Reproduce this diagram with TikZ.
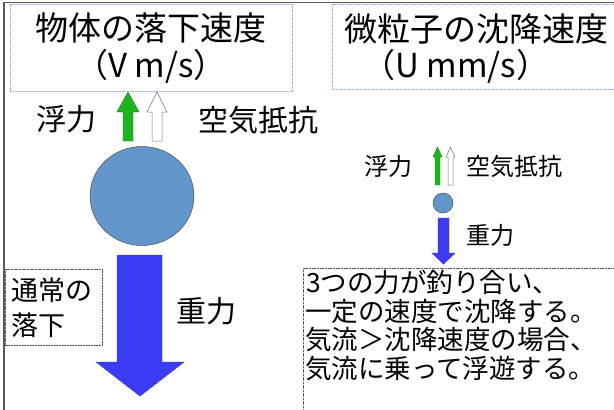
\documentclass[tikz,border=0pt]{standalone}
\usepackage{fontspec}
\setmainfont{Noto Sans CJK JP}
\usetikzlibrary{shapes.geometric}
\definecolor{upgreen}{RGB}{30,180,30}
\definecolor{downblue}{RGB}{60,60,245}
\definecolor{ballblue}{RGB}{98,150,202}
\definecolor{titleedge}{RGB}{150,185,225}
\definecolor{frameedge}{RGB}{90,90,90}
\tikzset{
  titlebox/.style={draw=titleedge, line width=0.9pt, dash pattern=on 1.2pt off 0.4pt},
  notebox/.style={draw=black!65, line width=0.7pt, dash pattern=on 1.2pt off 0.4pt},
  ttl/.style={inner sep=0pt, font=\fontsize{33}{36}\selectfont},
  big/.style={inner sep=0pt, font=\fontsize{30}{34}\selectfont},
  small/.style={inner sep=0pt, font=\fontsize{24}{28}\selectfont},
  note/.style={inner sep=0pt, anchor=west, font=\fontsize{26.5}{29}\selectfont},
  upfill/.style={fill=upgreen, draw=upgreen!70!black, line width=0.4pt},
  upwhite/.style={fill=white, draw=black!55, line width=0.5pt},
  downfill/.style={fill=downblue, draw=downblue!80!black, line width=0.4pt},
}
\begin{document}
\begin{tikzpicture}[x=1pt,y=-1pt]
\useasboundingbox (0,0) rectangle (614,410);
\clip (0,0) rectangle (614,410);
% frame
\draw[frameedge, line width=1.5pt] (4,412) -- (4,2.5) -- (616,2.5);
% title boxes
\draw[titlebox] (10,4.5) rectangle (292,91);
\draw[titlebox] (332,4.5) rectangle (620,89);
\node[ttl] (t1a) at (151,28) {物体の落下速度};
\node[ttl] (t1b) at (151,66) {（V m/s）};
\node[ttl] (t2a) at (476,29) {微粒子の沈降速度};
\node[ttl] (t2b) at (456,66) {（U mm/s）};
% left: large body
\path[upfill] (123,141) -- (123,112) -- (117,112) -- (128,92) -- (139,112) -- (133,112) -- (133,141) -- cycle;
\path[upwhite] (152,141) -- (152,112) -- (147,112) -- (157,92) -- (167,112) -- (162,112) -- (162,141) -- cycle;
\node[big] (fl) at (66,119) {浮力};
\node[big] (ar) at (258,120) {空気抵抗};
\node[ellipse, fill=ballblue, draw=black!70, line width=0.5pt, minimum width=104pt, minimum height=99pt, inner sep=0pt] (ball) at (142,196) {};
\path[downfill] (117,255) -- (162,255) -- (162,362) -- (184,362) -- (140,396) -- (96,362) -- (117,362) -- cycle;
\node[big] (gr) at (206,311) {重力};
\draw[notebox] (5,269) rectangle (102,345);
\node[inner sep=0pt, anchor=west, font=\fontsize{27}{30}\selectfont] (n1) at (11,290) {通常の};
\node[inner sep=0pt, anchor=west, font=\fontsize{27}{30}\selectfont] (n2) at (11,325) {落下};
% right: small particle
\path[upfill] (435,185) -- (435,157) -- (433,157) -- (437.5,147) -- (442,157) -- (440,157) -- (440,185) -- cycle;
\path[upwhite] (448,185) -- (448,157) -- (446,157) -- (450.5,147) -- (455,157) -- (453,157) -- (453,185) -- cycle;
\node[small] (sfl) at (388,166) {浮力};
\node[small] (sar) at (514,166) {空気抵抗};
\node[circle, fill=ballblue, draw=black!70, line width=0.5pt, minimum size=20pt, inner sep=0pt] (sball) at (443,203) {};
\path[downfill] (438,218) -- (449,218) -- (449,253) -- (455,253) -- (443.5,264) -- (432,253) -- (438,253) -- cycle;
\node[small] (sgr) at (490,235) {重力};
% explanation box
\draw[notebox] (303,268) rectangle (620,420);
\node[note] (l1) at (306,282) {3つの力が釣り合い、};
\node[note] (l2) at (305,311) {一定の速度で沈降する。};
\node[note] (l3) at (305,340) {気流＞沈降速度の場合、};
\node[note] (l4) at (305,368) {気流に乗って浮遊する。};
\end{tikzpicture}
\end{document}
